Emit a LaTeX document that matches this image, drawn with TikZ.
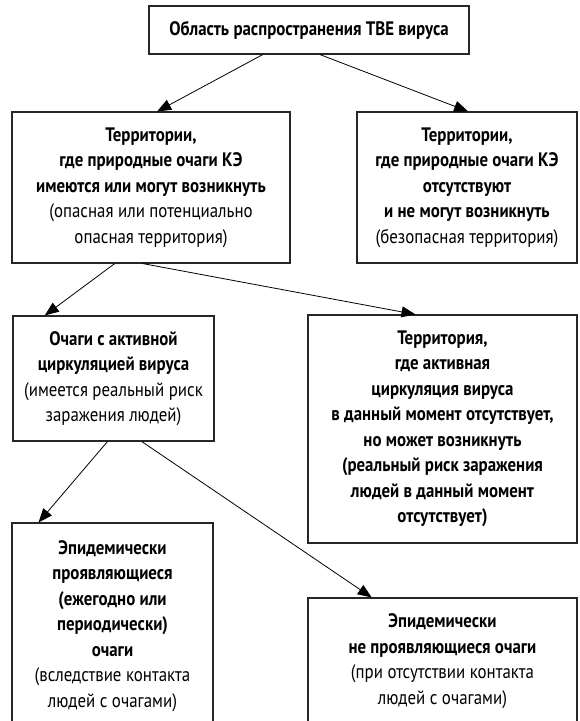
\documentclass[tikz,border=0pt]{standalone}
\usepackage{fontspec}
\setmainfont[FakeStretch=0.865]{PT Sans}
\usetikzlibrary{arrows.meta,calc}

\begin{document}
\begin{tikzpicture}[x=1pt,y=-1pt,
  box/.style={draw=black!85,line width=1.1pt,align=center,inner sep=0pt,
    font=\fontsize{19.5}{25.5}\selectfont},
  link/.style={line width=0.8pt,-{Triangle[length=14pt,width=11pt]}}]
\clip (0,0) rectangle (580,721);

\node[box,minimum width=320,minimum height=48] (root) at (309,30)
  {\textbf{Область распространения ТВЕ вируса}};

\node[box,minimum width=278,minimum height=151] (risk) at (151,187.5)
  {\textbf{Территории,}\\\textbf{где природные очаги КЭ}\\\textbf{имеются или могут возникнуть}\\(опасная или потенциально\\опасная территория)};

\node[box,minimum width=220,minimum height=151] (safe) at (467,187.5)
  {\textbf{Территории,}\\\textbf{где природные очаги КЭ}\\\textbf{отсутствуют}\\\textbf{и не могут возникнуть}\\(безопасная территория)};

\node[box,minimum width=201,minimum height=125] (active) at (113.5,378.5)
  {\textbf{Очаги с активной}\\\textbf{циркуляцией вируса}\\(имеется реальный риск\\заражения людей)};

\node[box,minimum width=269,minimum height=228] (latent) at (442.5,429)
  {\textbf{Территория,}\\\textbf{где активная}\\\textbf{циркуляция вируса}\\\textbf{в данный момент отсутствует,}\\\textbf{но может возникнуть}\\\textbf{(реальный риск заражения}\\\textbf{людей в данный момент}\\\textbf{отсутствует)}};

\node[box,minimum width=201,minimum height=206] (epi) at (112.5,626)
  {\textbf{Эпидемически}\\\textbf{проявляющиеся}\\\textbf{(ежегодно или}\\\textbf{периодически)}\\\textbf{очаги}\\(вследствие контакта\\людей с очагами)};

\node[box,minimum width=269,minimum height=126] (silent) at (442.5,661)
  {\textbf{Эпидемически}\\\textbf{не проявляющиеся очаги}\\(при отсутствии контакта\\людей с очагами)};

\draw[link] ($(root.south west)!0.356!(root.south east)$) -- ($(risk.north west)!0.522!(risk.north east)$);
\draw[link] ($(root.south west)!0.534!(root.south east)$) -- ($(safe.north west)!0.505!(safe.north east)$);
\draw[link] ($(risk.south west)!0.37!(risk.south east)$) -- ($(active.north west)!0.16!(active.north east)$);
\draw[link] ($(risk.south west)!0.47!(risk.south east)$) -- ($(latent.north west)!0.40!(latent.north east)$);
\draw[link] ($(active.south west)!0.47!(active.south east)$) -- ($(epi.north west)!0.134!(epi.north east)$);
\draw[link] ($(active.south west)!0.64!(active.south east)$) -- ($(silent.north west)!0.238!(silent.north east)$);
\end{tikzpicture}
\end{document}
